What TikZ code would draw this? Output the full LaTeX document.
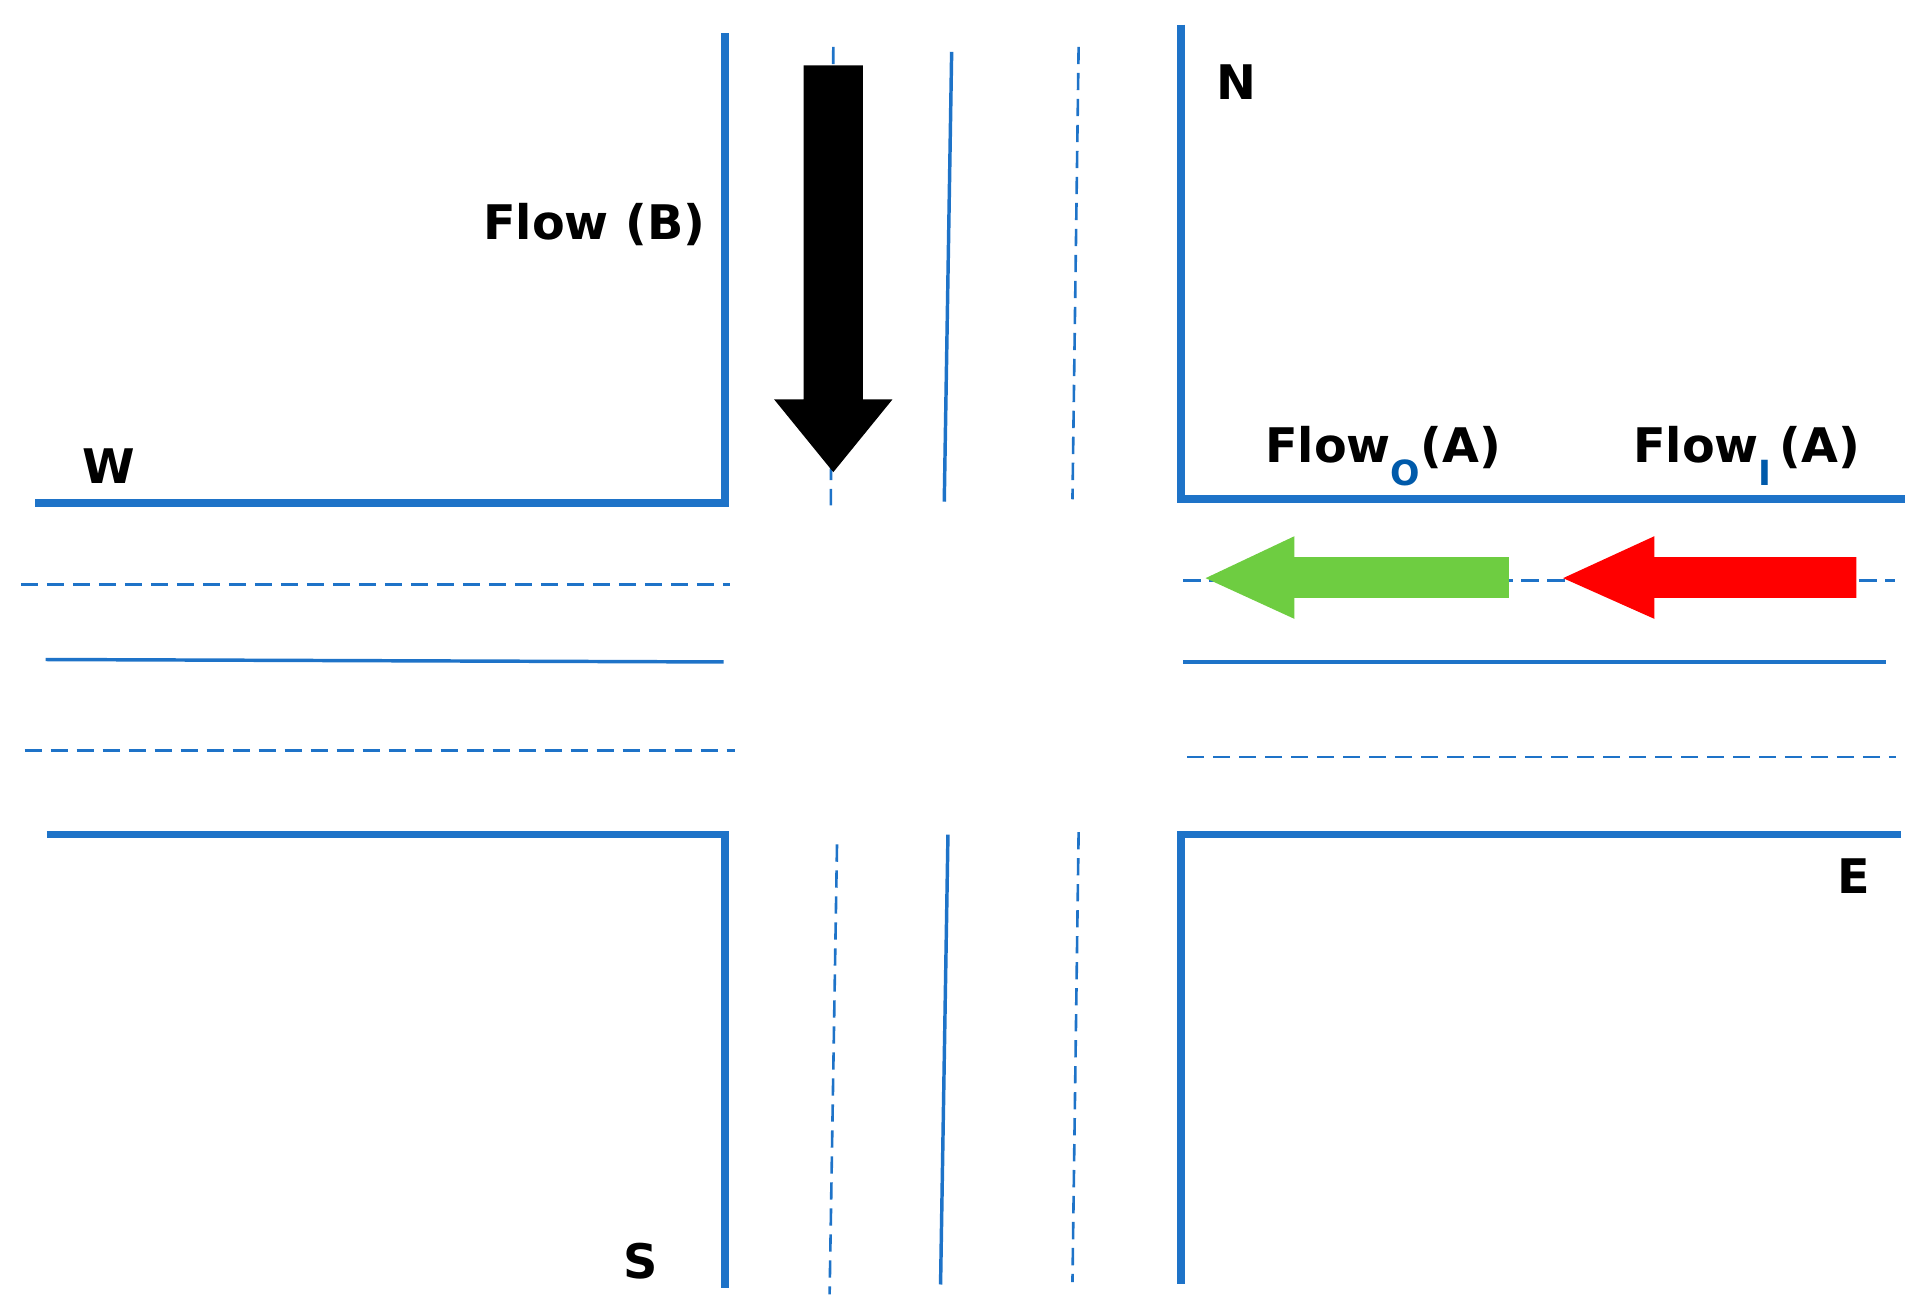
\documentclass[tikz,border=0pt]{standalone}
\usepackage{fontspec}
\setmainfont{DejaVu Sans}
\usepackage{xcolor}
\definecolor{strasse}{RGB}{30,115,200}
\definecolor{gruenpfeil}{RGB}{110,205,65}
\definecolor{rotpfeil}{RGB}{255,0,0}
\definecolor{indexblau}{RGB}{0,90,170}
\begin{document}
\begin{tikzpicture}[
    wand/.style={strasse, line width=1.8pt},
    spur/.style={strasse, line width=0.8pt},
    mitte/.style={strasse, line width=0.6pt, dash pattern=on 4pt off 2pt},
    schrift/.style={font=\fontsize{11}{13}\selectfont\bfseries, inner sep=0pt}]
    \useasboundingbox (0,0) rectangle (15.6,-10.62);

    % Mittellinien (unter dem Pfeil)
    \draw[mitte] (6.76,-0.38) -- (6.74,-4.1);
    \draw[mitte] (8.75,-0.38) -- (8.7,-4.05);
    \draw[mitte] (6.79,-6.85) -- (6.73,-10.5);
    \draw[mitte] (8.75,-6.75) -- (8.7,-10.4);
    \draw[mitte] (0.17,-4.74) -- (5.92,-4.74);
    \draw[mitte] (0.2,-6.09) -- (5.96,-6.09);
    \draw[mitte] (9.6,-4.71) -- (15.37,-4.71);
    \draw[mitte] (9.63,-6.14) -- (15.38,-6.14);

    % Fahrbahntrennung
    \draw[spur] (7.72,-0.42) -- (7.66,-4.07);
    \draw[spur] (7.69,-6.77) -- (7.63,-10.42);
    \draw[spur] (0.37,-5.35) -- (5.87,-5.37);
    \draw[spur] (9.6,-5.37) -- (15.3,-5.37);

    % Strassenraender
    \draw[wand] (5.88,-0.27) -- (5.88,-4.08) -- (0.28,-4.08);
    \draw[wand] (9.58,-0.2) -- (9.58,-4.05) -- (15.45,-4.05);
    \draw[wand] (0.38,-6.77) -- (5.88,-6.77) -- (5.88,-10.45);
    \draw[wand] (15.42,-6.77) -- (9.58,-6.77) -- (9.58,-10.42);

    % Pfeile
    \fill[black] (6.52,-0.53) -- (7.0,-0.53) -- (7.0,-3.24) -- (7.24,-3.24)
        -- (6.76,-3.83) -- (6.28,-3.24) -- (6.52,-3.24) -- cycle;
    \fill[gruenpfeil] (12.24,-4.52) -- (12.24,-4.85) -- (10.5,-4.85) -- (10.5,-5.02)
        -- (9.78,-4.69) -- (10.5,-4.35) -- (10.5,-4.52) -- cycle;
    \fill[rotpfeil] (15.06,-4.52) -- (15.06,-4.85) -- (13.42,-4.85) -- (13.42,-5.02)
        -- (12.68,-4.69) -- (13.42,-4.35) -- (13.42,-4.52) -- cycle;

    % Beschriftungen
    \node[schrift] (nord) at (10.03,-0.67) {N};
    \node[schrift] (west) at (0.88,-3.78) {W};
    \node[schrift] (ost) at (15.04,-7.11) {E};
    \node[schrift] (sued) at (5.2,-10.23) {S};
    \node[schrift, anchor=east] (flussB) at (5.73,-1.82) {Flow (B)};
    \node[schrift] (flussO) at (11.22,-3.7) {Flow\textcolor{indexblau}{\raisebox{-0.9ex}{\fontsize{8}{9}\selectfont O}}(A)};
    \node[schrift] (flussI) at (14.17,-3.7) {Flow\textcolor{indexblau}{\raisebox{-0.9ex}{\fontsize{8}{9}\selectfont I}}\,(A)};
\end{tikzpicture}
\end{document}
